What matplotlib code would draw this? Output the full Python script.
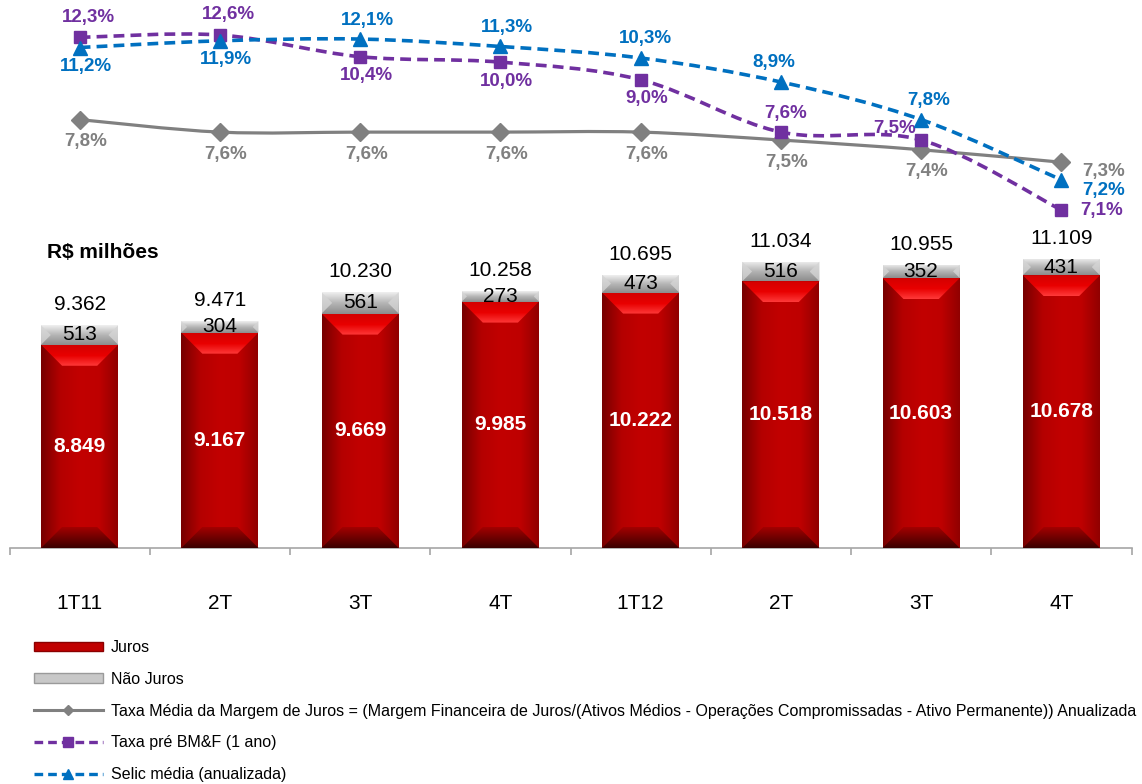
import numpy as np
import matplotlib
matplotlib.use('Agg')
import matplotlib.pyplot as plt
from matplotlib.path import Path
from matplotlib.patches import PathPatch, Polygon, Patch
from matplotlib.lines import Line2D
from matplotlib.colors import LinearSegmentedColormap

plt.rcParams['font.family'] = ['Liberation Sans', 'DejaVu Sans']

# data
categories = ['1T11', '2T', '3T', '4T', '1T12', '2T', '3T', '4T']
juros = [8849, 9167, 9669, 9985, 10222, 10518, 10603, 10678]
nao_juros = [513, 304, 561, 273, 473, 516, 352, 431]
totais = [9362, 9471, 10230, 10258, 10695, 11034, 10955, 11109]

taxa_margem = [7.8, 7.6, 7.6, 7.6, 7.6, 7.5, 7.4, 7.3]
taxa_pre = [12.3, 12.6, 10.4, 10.0, 9.0, 7.6, 7.5, 7.1]
selic = [11.2, 11.9, 12.1, 11.3, 10.3, 8.9, 7.8, 7.2]

RED = '#C00000'
GREY_LINE = '#808080'
PURPLE = '#7030A0'
BLUE = '#0070C0'

# label offsets (pixels) for the rate labels
margem_off = [(6, -22)] * 7 + [(42, -9)]
pre_off = [(9, 20), (9, 20), (6, -19), (6, -19), (6, -19), (5, 19), (-27, 12), (40, -1)]
selic_off = [(6, -19), (6, -19), (7, 19), (7, 19), (5, 19), (-7, 19), (8, 19), (42, -11)]


def milhar(v):
    return '{:,}'.format(v).replace(',', '.')


def pct(v):
    return '{:.1f}%'.format(v).replace('.', ',')


def gradient_fill(ax, verts, colors, vertical, zorder):
    # colors go bottom->top (vertical) or left->right
    poly = Polygon(verts, closed=True, facecolor='none', edgecolor='none')
    ax.add_patch(poly)
    xs = [p[0] for p in verts]
    ys = [p[1] for p in verts]
    cmap = LinearSegmentedColormap.from_list('g', colors)
    g = np.linspace(0, 1, 256)
    arr = g.reshape(-1, 1) if vertical else g.reshape(1, -1)
    im = ax.imshow(arr, cmap=cmap, origin='lower', aspect='auto',
                   extent=[min(xs), max(xs), min(ys), max(ys)],
                   interpolation='bilinear', zorder=zorder)
    im.set_clip_path(poly)


fig = plt.figure(figsize=(11.42, 7.84), dpi=100)

# bar axes
W, H = 1142.0, 784.0
ax = fig.add_axes([9.5 / W, 236 / H, 1122 / W, 308 / H])
x = np.arange(len(categories))
bw = 0.55
y_lo = 3500
y_hi = y_lo + 308 / 0.038
ax.set_xlim(-0.5, len(categories) - 0.5)
ax.set_ylim(y_lo, y_hi)

bars_j = ax.bar(x, juros, width=bw, color=RED, zorder=2)
bars_n = ax.bar(x, nao_juros, bottom=juros, width=bw, color='#BFBFBF', zorder=2)

px_x = 1122 / len(categories)
px_y = 308 / (y_hi - y_lo)
bev = 21
dx = bev / px_x
dy = bev / px_y

for rj, rn in zip(bars_j, bars_n):
    x0 = rj.get_x()
    x1 = x0 + rj.get_width()
    yt = rj.get_height()
    yb = y_lo
    # body of the red bar
    gradient_fill(ax, [(x0, yb), (x1, yb), (x1, yt), (x0, yt)],
                  ['#760000', '#B40000', '#C20000', '#BE0000', '#8E0000'], False, 3)
    # top bevel
    gradient_fill(ax, [(x0, yt), (x1, yt), (x1 - dx, yt - dy), (x0 + dx, yt - dy)],
                  ['#FF3A3A', '#E80000', '#D40000'], True, 4)
    # bottom bevel
    gradient_fill(ax, [(x0, yb), (x1, yb), (x1 - dx, yb + dy), (x0 + dx, yb + dy)],
                  ['#3A0000', '#700000', '#A40000'], True, 4)
    # grey cap
    c0 = rn.get_y()
    c1 = c0 + rn.get_height()
    gradient_fill(ax, [(x0, c0), (x1, c0), (x1, c1), (x0, c1)],
                  ['#8C8C8C', '#B5B5B5', '#F0F0F0'], True, 3)
    half = (c1 - c0) / 2 * px_y / px_x
    cm = (c0 + c1) / 2
    gradient_fill(ax, [(x0, c0), (x0 + half, cm), (x0, c1)],
                  ['#C4C4C4', '#DADADA'], True, 4)
    gradient_fill(ax, [(x1, c0), (x1 - half, cm), (x1, c1)],
                  ['#C4C4C4', '#DADADA'], True, 4)

ax.set_xlim(-0.5, len(categories) - 0.5)
ax.set_ylim(y_lo, y_hi)
ax.set_aspect('auto')

for i in range(len(categories)):
    ax.text(x[i], (y_lo + juros[i]) / 2, milhar(juros[i]), ha='center', va='center',
            color='white', fontsize=15, fontweight='bold', zorder=6)
    ax.text(x[i], juros[i] + nao_juros[i] / 2, milhar(nao_juros[i]), ha='center',
            va='center', color='black', fontsize=15, zorder=6)
    ax.annotate(milhar(totais[i]), (x[i], totais[i]), xytext=(0, 11),
                textcoords='offset pixels', ha='center', va='bottom',
                fontsize=15, annotation_clip=False)

for s in ['top', 'right', 'left']:
    ax.spines[s].set_visible(False)
ax.spines['bottom'].set_color('#A6A6A6')
ax.spines['bottom'].set_linewidth(1.2)
ax.set_yticks([])
ax.set_xticks(x)
ax.set_xticklabels(categories, fontsize=15)
ax.tick_params(axis='x', which='major', length=0, pad=33)
ax.set_xticks(np.arange(-0.5, len(categories)), minor=True)
ax.tick_params(axis='x', which='minor', length=5, width=1.2, color='#A6A6A6')
ax.patch.set_visible(False)

fig.text(47 / W, 1 - 252 / H, 'R$ milhões', fontsize=15, fontweight='bold',
         ha='left', va='center')

# line axes on a log-shifted scale
C_SHIFT = 7.0


def fwd(v):
    return np.log(np.maximum(np.asarray(v, dtype=float) - C_SHIFT, 1e-9))


def inv(u):
    return np.exp(u) + C_SHIFT


lax = fig.add_axes([9.5 / W, 1 - 240 / H, 1122 / W, 240 / H])
lax.set_xlim(-0.5, len(categories) - 0.5)
lax.set_yscale('function', functions=(fwd, inv))
all_rates = taxa_pre + selic + taxa_margem
u_hi, u_lo = fwd(max(all_rates)), fwd(min(all_rates))
per_px = (u_hi - u_lo) / (210 - 35)
lax.set_ylim(inv(u_lo - (240 - 210) * per_px), inv(u_hi + 35 * per_px))
lax.axis('off')


def smooth_line(axl, xs, vals, **kw):
    pts = np.column_stack([np.asarray(xs, float), fwd(vals)])
    n = len(pts)
    verts = [pts[0]]
    codes = [Path.MOVETO]
    for i in range(n - 1):
        p0 = pts[max(i - 1, 0)]
        p1 = pts[i]
        p2 = pts[i + 1]
        p3 = pts[min(i + 2, n - 1)]
        verts += [p1 + (p2 - p0) / 6, p2 - (p3 - p1) / 6, p2]
        codes += [Path.CURVE4] * 3
    patch = PathPatch(Path(verts, codes), transform=axl.transLimits + axl.transAxes,
                      fill=False, **kw)
    patch.set_clip_on(False)
    axl.add_patch(patch)


series = [
    (taxa_margem, GREY_LINE, '-', 'D', 9, margem_off),
    (taxa_pre, PURPLE, (0, (3, 1.7)), 's', 9, pre_off),
    (selic, BLUE, (0, (3, 1.7)), '^', 10, selic_off),
]
for vals, col, ls, mk, ms, offs in series:
    smooth_line(lax, x, vals, edgecolor=col, linewidth=2.6 if ls != '-' else 2.3,
                linestyle=ls, capstyle='butt', zorder=3)
    lax.plot(x, vals, ls='none', marker=mk, ms=ms, color=col, zorder=4, clip_on=False)
    for i, v in enumerate(vals):
        lax.annotate(pct(v), (x[i], v), xytext=offs[i], textcoords='offset pixels',
                     ha='center', va='center', color=col, fontsize=13.5,
                     fontweight='bold', annotation_clip=False)

handles = [
    Patch(facecolor=RED, edgecolor='#8A0000'),
    Patch(facecolor='#C8C8C8', edgecolor='#9A9A9A'),
    Line2D([0], [0], color=GREY_LINE, lw=2.2, marker='D', ms=5),
    Line2D([0], [0], color=PURPLE, lw=2.4, ls=(0, (2.6, 1.5)), marker='s', ms=7),
    Line2D([0], [0], color=BLUE, lw=2.4, ls=(0, (2.6, 1.5)), marker='^', ms=7),
]
labels = [
    'Juros',
    'Não Juros',
    'Taxa Média da Margem de Juros = (Margem Financeira de Juros/(Ativos Médios - '
    'Operações Compromissadas - Ativo Permanente)) Anualizada',
    'Taxa pré BM&F (1 ano)',
    'Selic média (anualizada)',
]
fig.legend(handles, labels, loc='upper left', bbox_to_anchor=(34 / W, 1 - 640 / H),
           frameon=False, fontsize=11.5, handlelength=4.3, handleheight=0.55,
           handletextpad=0.5, labelspacing=1.05, borderpad=0, borderaxespad=0)

fig.savefig('out.png', dpi=100)
